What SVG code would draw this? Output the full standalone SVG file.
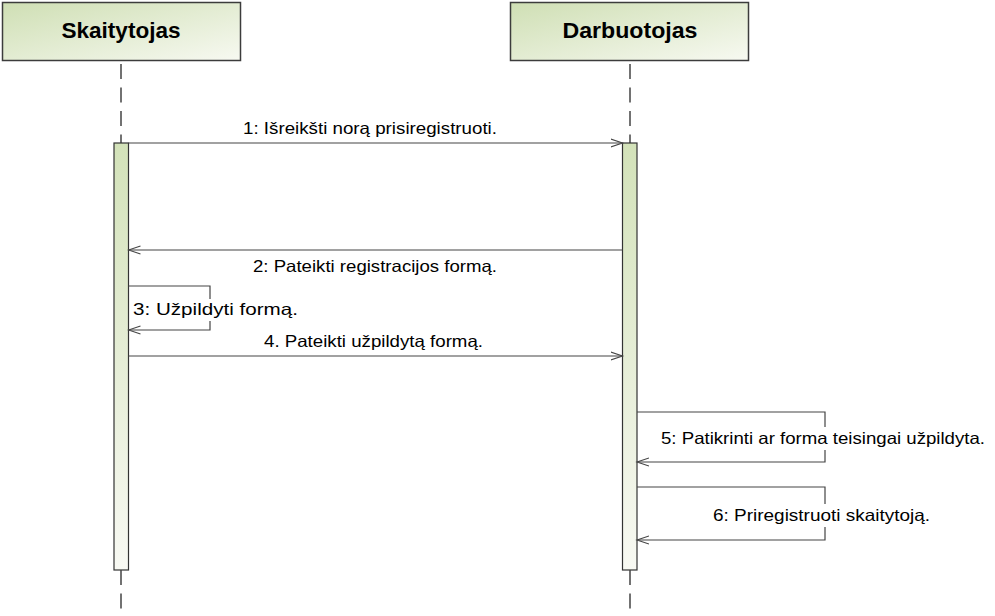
<svg xmlns="http://www.w3.org/2000/svg" width="995" height="616" viewBox="0 0 995 616">
<style>
.hdr{stroke:#3c3c3c;stroke-width:1.5;fill:url(#hg)}
.htxt{font-family:"Liberation Sans",Arial,sans-serif;font-weight:bold;font-size:22px;fill:#000;text-anchor:middle}
.life{stroke:#444;stroke-width:1.5;stroke-dasharray:15 8.5;fill:none}
.act{stroke:#333;stroke-width:1.2;fill:url(#ag)}
.msg{stroke:#444;stroke-width:1.2;fill:none;marker-end:url(#arr)}
.lbl{font-family:"Liberation Sans",Arial,sans-serif;font-size:16.5px;fill:#000}
.bg{fill:#fff;stroke:none}
</style>
<defs>
<linearGradient id="hg" x1="0" y1="0" x2="1" y2="1">
<stop offset="0" stop-color="#cfdfb4"/>
<stop offset="1" stop-color="#f7f9f1"/>
</linearGradient>
<linearGradient id="ag" x1="0" y1="0" x2="0" y2="1">
<stop offset="0" stop-color="#d3e2b9"/>
<stop offset="1" stop-color="#f8f9f3"/>
</linearGradient>
<marker id="arr" markerWidth="14" markerHeight="10" refX="12" refY="5" orient="auto" markerUnits="userSpaceOnUse">
<path d="M0,1 L12,5 L0,9" fill="none" stroke="#444" stroke-width="1.1"/>
</marker>
</defs>
<rect width="995" height="616" fill="#fff"/>
<g id="skaitytojas">
<rect class="hdr" x="2.5" y="2.5" width="238" height="58"/>
<text class="htxt" x="121" y="38" textLength="119" lengthAdjust="spacingAndGlyphs">Skaitytojas</text>
<line class="life" x1="121" y1="64" x2="121" y2="143"/>
<rect class="act" x="114" y="143" width="14.5" height="427"/>
<line class="life" x1="121" y1="570" x2="121" y2="610"/>
</g>
<g id="darbuotojas">
<rect class="hdr" x="510.5" y="2.5" width="238" height="58"/>
<text class="htxt" x="630" y="38" textLength="135" lengthAdjust="spacingAndGlyphs">Darbuotojas</text>
<line class="life" x1="630" y1="64" x2="630" y2="143"/>
<rect class="act" x="622.5" y="143" width="14.5" height="427"/>
<line class="life" x1="630" y1="570" x2="630" y2="610"/>
</g>
<g id="connectors">
<line class="msg" x1="128.5" y1="143" x2="622.5" y2="143"/>
<text class="lbl" x="243" y="134" textLength="254" lengthAdjust="spacingAndGlyphs">1: Išreikšti norą prisiregistruoti.</text>
<line class="msg" x1="622.5" y1="250" x2="128.5" y2="250"/>
<text class="lbl" x="253" y="272" textLength="244" lengthAdjust="spacingAndGlyphs">2: Pateikti registracijos formą.</text>
<polyline class="msg" points="128.5,286 210,286 210,330 128.5,330"/>
<rect class="bg" x="131" y="299" width="169" height="22"/>
<text class="lbl" x="133" y="315" textLength="165" lengthAdjust="spacingAndGlyphs">3: Užpildyti formą.</text>
<line class="msg" x1="128.5" y1="356" x2="622.5" y2="356"/>
<text class="lbl" x="264" y="347" textLength="219" lengthAdjust="spacingAndGlyphs">4. Pateikti užpildytą formą.</text>
<polyline class="msg" points="637,412 825,412 825,462 637,462"/>
<rect class="bg" x="659" y="427" width="328" height="23"/>
<text class="lbl" x="661" y="444" textLength="324" lengthAdjust="spacingAndGlyphs">5: Patikrinti ar forma teisingai užpildyta.</text>
<polyline class="msg" points="637,487 825,487 825,540 637,540"/>
<rect class="bg" x="711" y="504" width="221" height="23"/>
<text class="lbl" x="713" y="521" textLength="217" lengthAdjust="spacingAndGlyphs">6: Priregistruoti skaitytoją.</text>
</g>
</svg>
